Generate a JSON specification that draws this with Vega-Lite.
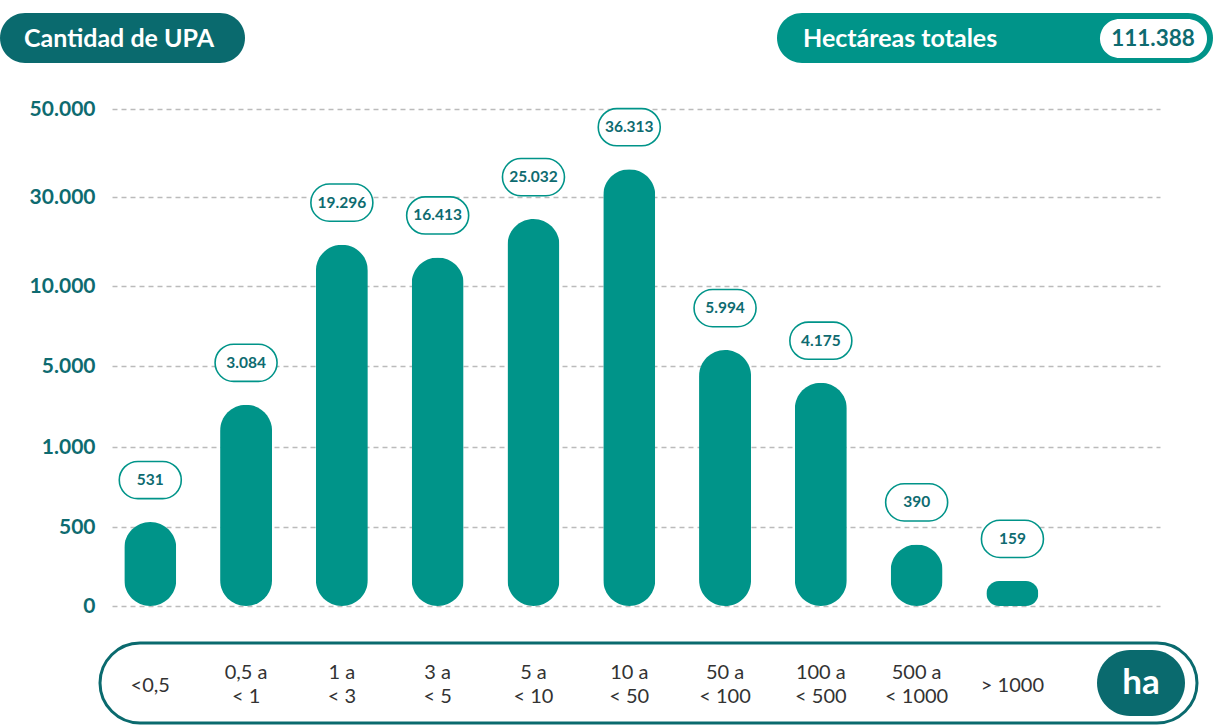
{
  "$schema": "https://vega.github.io/schema/vega-lite/v6.json",
  "width": 1048,
  "height": 725,
  "autosize": {"type": "none"},
  "padding": {"left": 112, "top": 0, "right": 53, "bottom": 0},
  "background": "white",
  "config": {
    "view": {"stroke": null},
    "locale": {"number": {"decimal": ",", "thousands": ".", "grouping": [3], "currency": ["$", ""]}}
  },
  "layer": [
    {
      "data": {"values": [{"t": "Cantidad de UPA"}]},
      "layer": [
        {"mark": {"type": "rect", "color": "#0a6a6e", "cornerRadius": 25},
         "encoding": {"x": {"value": -112}, "x2": {"value": 133}, "y": {"value": 13}, "y2": {"value": 63}}},
        {"mark": {"type": "text", "align": "left", "baseline": "middle", "font": "Lato", "fontSize": 25, "fontWeight": "bold", "color": "white"},
         "encoding": {"text": {"field": "t"}, "x": {"value": -88}, "y": {"value": 39}}}
      ]
    },
    {
      "data": {"values": [{"t": "Hectáreas totales", "total": "111.388"}]},
      "layer": [
        {"mark": {"type": "rect", "color": "#009489", "cornerRadius": 25},
         "encoding": {"x": {"value": 665}, "x2": {"value": 1101}, "y": {"value": 13}, "y2": {"value": 63}}},
        {"mark": {"type": "rect", "color": "white", "cornerRadius": 19.5},
         "encoding": {"x": {"value": 988}, "x2": {"value": 1095}, "y": {"value": 19}, "y2": {"value": 58}}},
        {"mark": {"type": "text", "align": "left", "baseline": "middle", "font": "Lato", "fontSize": 25, "fontWeight": "bold", "color": "white"},
         "encoding": {"text": {"field": "t"}, "x": {"value": 691}, "y": {"value": 39}}},
        {"mark": {"type": "text", "align": "center", "baseline": "middle", "font": "Lato", "fontSize": 22.5, "fontWeight": "bold", "color": "#0e6b70"},
         "encoding": {"text": {"field": "total"}, "x": {"value": 1041}, "y": {"value": 39}}}
      ]
    },
    {
      "data": {"values": [{"u": "ha"}]},
      "layer": [
        {"mark": {"type": "rect", "filled": false, "stroke": "#0a6a6e", "strokeWidth": 3, "cornerRadius": 40},
         "encoding": {"x": {"value": -12}, "x2": {"value": 1085}, "y": {"value": 643}, "y2": {"value": 723}}},
        {"mark": {"type": "rect", "color": "#0a6a6e", "cornerRadius": 33},
         "encoding": {"x": {"value": 985}, "x2": {"value": 1073}, "y": {"value": 650}, "y2": {"value": 716}}},
        {"mark": {"type": "text", "align": "center", "baseline": "middle", "font": "Lato", "fontSize": 35, "fontWeight": "bold", "color": "white"},
         "encoding": {"text": {"field": "u"}, "x": {"value": 1029}, "y": {"value": 683}}}
      ]
    },
    {
      "data": {
        "values": [
          {"rango": "<0,5", "upa": 531},
          {"rango": "0,5 a < 1", "upa": 3084},
          {"rango": "1 a < 3", "upa": 19296},
          {"rango": "3 a < 5", "upa": 16413},
          {"rango": "5 a < 10", "upa": 25032},
          {"rango": "10 a < 50", "upa": 36313},
          {"rango": "50 a < 100", "upa": 5994},
          {"rango": "100 a < 500", "upa": 4175},
          {"rango": "500 a < 1000", "upa": 390},
          {"rango": "> 1000", "upa": 159}
        ]
      },
      "encoding": {
        "x": {
          "field": "rango", "type": "nominal", "sort": null,
          "scale": {"type": "band", "paddingInner": 0.9, "paddingOuter": 0.92, "align": 0.19},
          "axis": {
            "title": null, "domain": false, "ticks": false, "tickSize": 0, "offset": -53,
            "labelAngle": 0, "labelBaseline": "middle", "labelOverlap": false,
            "labelPadding": {"condition": {"test": "indexof(datum.label, ' a ') > 0", "value": 0}, "value": 13},
            "labelFont": "Lato", "labelFontSize": 20, "labelColor": "#333333", "labelLineHeight": 24,
            "labelExpr": "indexof(datum.label, ' a ') > 0 ? [substring(datum.label, 0, indexof(datum.label, ' a ') + 2), substring(datum.label, indexof(datum.label, ' a ') + 3)] : datum.label"
          }
        },
        "y": {
          "field": "upa", "type": "quantitative",
          "scale": {"domain": [0, 500, 1000, 5000, 10000, 30000, 50000], "range": [606, 527, 447, 366, 286, 197, 109], "nice": false, "zero": false},
          "axis": {
            "title": null, "values": [0, 500, 1000, 5000, 10000, 30000, 50000], "format": ",d",
            "domain": false, "ticks": false, "labelPadding": 17,
            "labelFont": "Lato", "labelFontSize": 21, "labelFontWeight": "bold", "labelColor": "#0e6b70",
            "grid": true, "gridDash": [5, 4], "gridColor": "#bbbbbb", "gridWidth": 1.5
          }
        }
      },
      "layer": [
        {"mark": {"type": "bar", "width": 52, "cornerRadius": 26, "color": "#009489"}},
        {"mark": {"type": "point", "shape": "M -0.4 -0.6 H 0.4 A 0.6 0.6 0 0 1 0.4 0.6 H -0.4 A 0.6 0.6 0 0 1 -0.4 -0.6 Z",
                  "size": 3844, "filled": true, "fill": "white", "stroke": "#009489", "strokeWidth": 1.6, "opacity": 1, "fillOpacity": 1, "strokeOpacity": 1, "yOffset": -42}},
        {"mark": {"type": "text", "font": "Lato", "fontSize": 15.5, "fontWeight": "bold", "color": "#0e6b70", "baseline": "middle", "yOffset": -42},
         "encoding": {"text": {"field": "upa", "type": "quantitative", "format": ",d"}}}
      ]
    }
  ]
}
